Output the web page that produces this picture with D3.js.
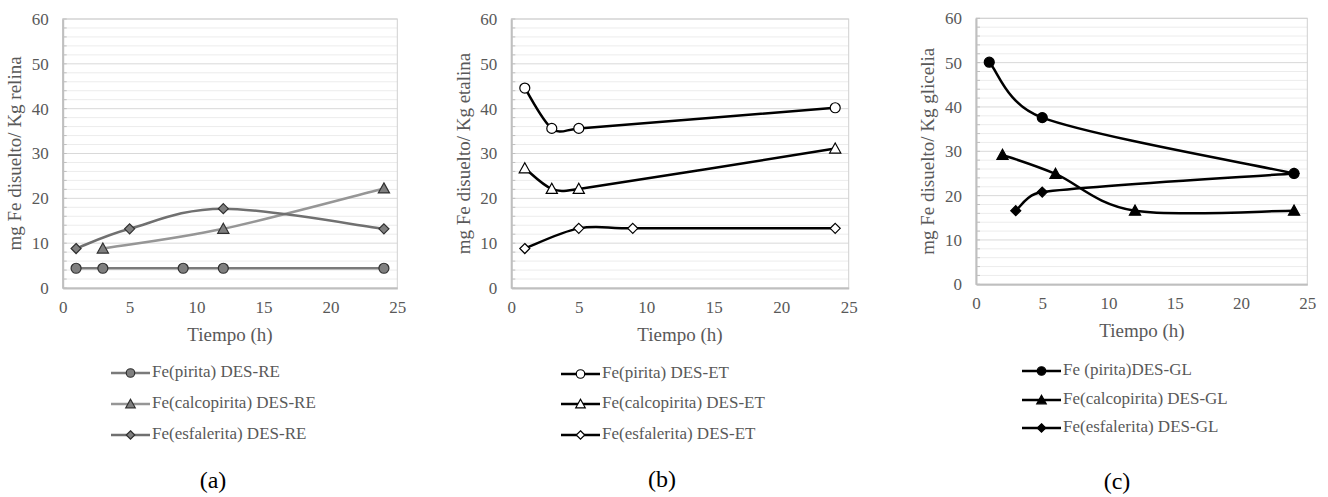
<!DOCTYPE html>
<html><head><meta charset="utf-8">
<script src="https://cdn.jsdelivr.net/npm/d3@7"></script>
<style>
body{margin:0;background:#fff;}
svg{display:block;}
</style></head>
<body>
<svg id="chart" width="1328" height="497" font-family="Liberation Serif"></svg>
<script>
// ---- data ----
const xTicks = [0, 5, 10, 15, 20, 25];
const yTicks = [0, 10, 20, 30, 40, 50, 60];
const yMinor = d3.range(0, 61, 2);

// Panel (a) DES-RE
const reTimePirita = [1, 3, 9, 12, 24];
const reFePirita   = [4.4, 4.4, 4.4, 4.4, 4.4];
const reTimeCalco  = [3, 12, 24];
const reFeCalco    = [8.8, 13.2, 22.2];
const reTimeEsfa   = [1, 5, 12, 24];
const reFeEsfa     = [8.8, 13.2, 17.7, 13.2];

// Panel (b) DES-ET
const etTimePirita = [1, 3, 5, 24];
const etFePirita   = [44.6, 35.6, 35.6, 40.2];
const etTimeCalco  = [1, 3, 5, 24];
const etFeCalco    = [26.7, 22.1, 22.1, 31.1];
const etTimeEsfa   = [1, 5, 9, 24];
const etFeEsfa     = [8.8, 13.3, 13.3, 13.3];

// Panel (c) DES-GL
const glTimePirita = [1, 5, 24];
const glFePirita   = [50.1, 37.6, 25.0];
const glTimeCalco  = [2, 6, 12, 24];
const glFeCalco    = [29.2, 24.9, 16.6, 16.6];
const glTimeEsfa   = [3, 5, 24];
const glFeEsfa     = [16.6, 20.8, 25.0];

const yTitles = ["mg Fe disuelto/ Kg relina", "mg Fe disuelto/ Kg etalina", "mg Fe disuelto/ Kg glicelia"];
const legendA = ["Fe(pirita) DES-RE", "Fe(calcopirita) DES-RE", "Fe(esfalerita) DES-RE"];
const legendB = ["Fe(pirita) DES-ET", "Fe(calcopirita) DES-ET", "Fe(esfalerita) DES-ET"];
const legendC = ["Fe (pirita)DES-GL", "Fe(calcopirita) DES-GL", "Fe(esfalerita) DES-GL"];
const captions = ["(a)", "(b)", "(c)"];
const xTitle = "Tiempo (h)";

// ---- layout / styles ----
const FONT = "Liberation Serif, Times New Roman, serif";
const panels = [
  { box:[62.7, 397.3, 19, 288], leg:{x1:111, x2:150, tx:152, ys:[373, 404, 435]}, cap:[213, 482], xt:[230, 337],
    series:[
      {t:reTimePirita, v:reFePirita, shape:"circle", line:"#7a7a7a", fill:"#7f7f7f", stroke:"#303030"},
      {t:reTimeCalco,  v:reFeCalco,  shape:"triangle", line:"#969696", fill:"#7f7f7f", stroke:"#303030"},
      {t:reTimeEsfa,   v:reFeEsfa,   shape:"diamond", line:"#707070", fill:"#7f7f7f", stroke:"#303030"}],
    legend:legendA, ytitle:yTitles[0], caption:captions[0] },
  { box:[511.3, 848.7, 19, 288], leg:{x1:561, x2:600, tx:602, ys:[374, 404, 435]}, cap:[662, 481], xt:[680, 337],
    series:[
      {t:etTimePirita, v:etFePirita, shape:"circle", line:"#000", fill:"#fff", stroke:"#000"},
      {t:etTimeCalco,  v:etFeCalco,  shape:"triangle", line:"#000", fill:"#fff", stroke:"#000"},
      {t:etTimeEsfa,   v:etFeEsfa,   shape:"diamond", line:"#000", fill:"#fff", stroke:"#000"}],
    legend:legendB, ytitle:yTitles[1], caption:captions[1] },
  { box:[976, 1307.3, 18.3, 284.3], leg:{x1:1022, x2:1061, tx:1063, ys:[371, 400, 428]}, cap:[1117, 483], xt:[1142, 333],
    series:[
      {t:glTimePirita, v:glFePirita, shape:"circle", line:"#000", fill:"#000", stroke:"#000"},
      {t:glTimeCalco,  v:glFeCalco,  shape:"triangle", line:"#000", fill:"#000", stroke:"#000"},
      {t:glTimeEsfa,   v:glFeEsfa,   shape:"diamond", line:"#000", fill:"#000", stroke:"#000"}],
    legend:legendC, ytitle:yTitles[2], caption:captions[2] }
];

const svg = d3.select("#chart");

// Excel-like smoothed line: cubic Bezier with 1/6 tangents, clamped to half the segment length
function smoothPath(pts) {
  const p = d3.path();
  const n = pts.length;
  const dist = (a, b) => Math.hypot(b[0] - a[0], b[1] - a[1]);
  p.moveTo(pts[0][0], pts[0][1]);
  for (let i = 0; i < n - 1; i++) {
    const P0 = pts[Math.max(0, i - 1)], P1 = pts[i], P2 = pts[i + 1], P3 = pts[Math.min(n - 1, i + 2)];
    const d12 = dist(P1, P2), d02 = dist(P0, P2), d13 = dist(P1, P3);
    let f1 = 1 / 6, f2 = 1 / 6;
    if (d02 * f1 > d12 / 2 && d02 > 0) f1 = d12 / (2 * d02);
    if (d13 * f2 > d12 / 2 && d13 > 0) f2 = d12 / (2 * d13);
    const c1 = [P1[0] + (P2[0] - P0[0]) * f1, P1[1] + (P2[1] - P0[1]) * f1];
    const c2 = [P2[0] - (P3[0] - P1[0]) * f2, P2[1] - (P3[1] - P1[1]) * f2];
    p.bezierCurveTo(c1[0], c1[1], c2[0], c2[1], P2[0], P2[1]);
  }
  return p.toString();
}

function marker(g, shape, cx, cy, fill, stroke, small) {
  const k = small ? 0.85 : 1;
  if (shape === "circle") {
    g.append("circle").attr("cx", cx).attr("cy", cy).attr("r", 5 * k)
      .attr("fill", fill).attr("stroke", stroke).attr("stroke-width", 1.2);
  } else if (shape === "triangle") {
    const s = 5.6 * k;
    g.append("path").attr("d", `M${cx},${cy - s}L${cx + s},${cy + s * 0.8}L${cx - s},${cy + s * 0.8}Z`)
      .attr("fill", fill).attr("stroke", stroke).attr("stroke-width", 1.2);
  } else {
    const s = 5 * k;
    g.append("path").attr("d", `M${cx},${cy - s}L${cx + s},${cy}L${cx},${cy + s}L${cx - s},${cy}Z`)
      .attr("fill", fill).attr("stroke", stroke).attr("stroke-width", 1.2);
  }
}

function styleText(sel, size, color) {
  sel.attr("font-family", FONT).attr("font-size", size).attr("fill", color);
  return sel;
}

panels.forEach(p => {
  const [L, R, T, B] = p.box;
  const x = d3.scaleLinear().domain([0, 25]).range([L, R]);
  const y = d3.scaleLinear().domain([0, 60]).range([B, T]);
  const g = svg.append("g");

  // minor gridlines
  g.selectAll("line.minor").data(yMinor.filter(d => d % 10 !== 0)).join("line")
    .attr("x1", L).attr("x2", R).attr("y1", d => y(d)).attr("y2", d => y(d))
    .attr("stroke", "#ececec").attr("stroke-width", 1);
  // major gridlines
  g.selectAll("line.major").data(yTicks).join("line")
    .attr("x1", L).attr("x2", R).attr("y1", d => y(d)).attr("y2", d => y(d))
    .attr("stroke", "#d9d9d9").attr("stroke-width", 1);
  // plot border
  g.append("rect").attr("x", L).attr("y", T).attr("width", R - L).attr("height", B - T)
    .attr("fill", "none").attr("stroke", "#d0d0d0").attr("stroke-width", 1);
  // minor ticks on y axis
  g.selectAll("line.mt").data(yMinor).join("line")
    .attr("x1", L).attr("x2", L + 4).attr("y1", d => y(d)).attr("y2", d => y(d))
    .attr("stroke", "#bfbfbf").attr("stroke-width", 1);

  // axes via d3
  const yAxis = d3.axisLeft(y).tickValues(yTicks).tickSize(0).tickPadding(14);
  const ya = g.append("g").attr("transform", `translate(${L},0)`).call(yAxis);
  ya.attr("font-family", FONT).attr("font-size", 17);
  ya.select(".domain").attr("stroke", "#bfbfbf").attr("stroke-width", 2);
  styleText(ya.selectAll("text"), 17, "#595959");

  const xAxis = d3.axisBottom(x).tickValues(xTicks).tickSize(0).tickPadding(13);
  const xa = g.append("g").attr("transform", `translate(0,${B})`).call(xAxis);
  xa.attr("font-family", FONT).attr("font-size", 17);
  xa.select(".domain").attr("stroke", "#bfbfbf").attr("stroke-width", 2);
  styleText(xa.selectAll("text"), 17, "#595959");

  // axis titles
  styleText(g.append("text").attr("x", p.xt[0]).attr("y", p.xt[1]).attr("text-anchor", "middle")
    .attr("dominant-baseline", "middle").text(xTitle), 19, "#595959");
  styleText(g.append("text").attr("transform", `translate(${L - 46},${(T + B) / 2}) rotate(-90)`)
    .attr("text-anchor", "middle").attr("dominant-baseline", "middle").text(p.ytitle), 19, "#595959");

  // series
  p.series.forEach(s => {
    const pts = s.t.map((t, i) => [x(t), y(s.v[i])]);
    g.append("path").attr("d", smoothPath(pts)).attr("fill", "none")
      .attr("stroke", s.line).attr("stroke-width", 2.5);
  });
  p.series.forEach(s => {
    s.t.forEach((t, i) => marker(g, s.shape, x(t), y(s.v[i]), s.fill, s.stroke, false));
  });

  // legend
  p.series.forEach((s, i) => {
    const ly = p.leg.ys[i];
    g.append("line").attr("x1", p.leg.x1).attr("x2", p.leg.x2).attr("y1", ly).attr("y2", ly)
      .attr("stroke", s.line).attr("stroke-width", 2.5);
    marker(g, s.shape, (p.leg.x1 + p.leg.x2) / 2, ly, s.fill, s.stroke, true);
    styleText(g.append("text").attr("x", p.leg.tx).attr("y", ly).attr("dominant-baseline", "middle")
      .text(p.legend[i]), 17, "#595959");
  });

  // caption
  styleText(svg.append("text").attr("x", p.cap[0]).attr("y", p.cap[1]).attr("text-anchor", "middle")
    .attr("dominant-baseline", "middle").text(p.caption), 24, "#000");
});
</script>
</body></html>
